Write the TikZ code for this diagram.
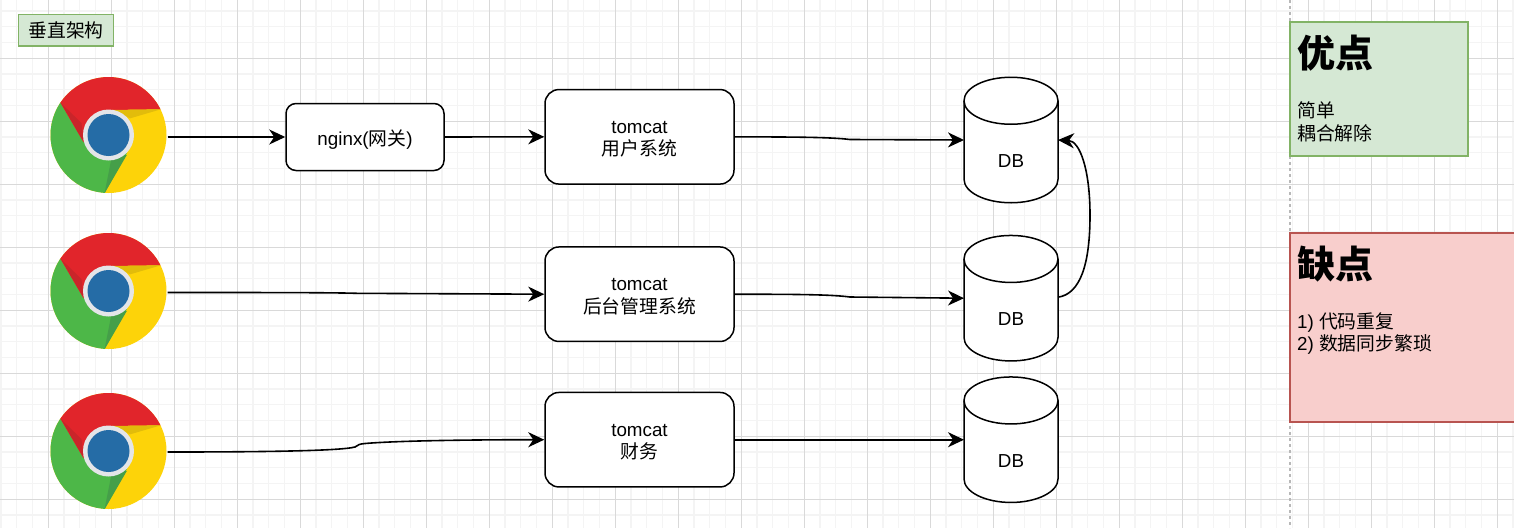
\documentclass[tikz,border=0pt]{standalone}
\usepackage{fontspec}
\setmainfont{Liberation Sans}
\newfontfamily\cjk{Noto Sans CJK SC}
\usetikzlibrary{arrows.meta}
\definecolor{gridmajor}{HTML}{D9D9D9}
\definecolor{gridminor}{HTML}{F4F4F4}
\definecolor{greenfill}{HTML}{D5E8D4}
\definecolor{greenline}{HTML}{82B366}
\definecolor{redfill}{HTML}{F8CECC}
\definecolor{redline}{HTML}{B85450}
\definecolor{chromered}{HTML}{E1252B}
\definecolor{chromereddark}{HTML}{C9252A}
\definecolor{chromegreen}{HTML}{4DB748}
\definecolor{chromegreendark}{HTML}{459F49}
\definecolor{chromeyellow}{HTML}{FDD309}
\definecolor{chromeyellowdark}{HTML}{E2BC0B}
\definecolor{chromeblue}{HTML}{256CA6}
\definecolor{chromering}{HTML}{E4E5E8}

\begin{document}
\begin{tikzpicture}[x=1pt,y=-1pt,font=\fontsize{18.8}{22.5}\selectfont]
		\tikzstyle {arrow line} = [line width=1.6pt,-{Stealth[length=16pt,width=15pt,inset=5pt]}]
		\tikzstyle {system} = [draw,line width=1.5pt,rounded corners=14pt,minimum width=189pt,minimum height=94.5pt,inner sep=0pt,fill=white]
		\tikzstyle {gateway} = [system,rounded corners=10pt,minimum width=158pt,minimum height=67pt]
		\tikzstyle {system text} = [inner sep=0pt,align=center,yshift=-2.5pt]
		\tikzstyle {db} = [minimum width=94pt,minimum height=125.5pt,inner sep=0pt,outer sep=0pt]
		\tikzstyle {icon} = [circle,minimum size=116pt,inner sep=0pt,outer sep=0pt]
		\tikzstyle {note text} = [anchor=west,inner sep=0pt,align=left]
		\tikzstyle {note title} = [note text,font=\fontsize{38}{44}\selectfont\cjk\bfseries]

		\useasboundingbox (0,0) rectangle (1514,528);
		\fill[white] (0,0) rectangle (1514,528);

		% grid
		\foreach \k in {0,...,96}
			\draw[gridminor,line width=1.2pt] (1.05+15.75*\k,0) -- (1.05+15.75*\k,528);
		\foreach \k in {0,...,33}
			\draw[gridminor,line width=1.2pt] (0,11.05+15.75*\k) -- (1514,11.05+15.75*\k);
		\foreach \k in {0,...,23}
			\draw[gridmajor,line width=1.1pt] (48.3+63*\k,0) -- (48.3+63*\k,528);
		\foreach \k in {0,...,7}
			\draw[gridmajor,line width=1.1pt] (0,58.3+63*\k) -- (1514,58.3+63*\k);
		\draw[gridmajor!85!black,line width=1.1pt,dashed] (1290,0) -- (1290,528);

		% title
		\node[draw=greenline,fill=greenfill,line width=1.5pt,minimum width=95pt,minimum height=31.5pt,inner sep=0pt] (title) at (66,30.3) {\cjk 垂直架构};

		% chrome icons
		\foreach \name/\y in {chrome1/135,chrome2/291,chrome3/451} {
			\node[icon] (\name) at (108.5,\y) {};
			\begin{scope}[shift={(108.5,\y)}]
				\clip (0,0) circle (58);
				\fill[chromeyellow] (-60,-60) rectangle (60,60);
				\fill[chromegreen] (-48,-32.3) -- (-25,7) -- (18.3,18.3) -- (-4,58.3) -- (-70,70) -- (-70,-32) -- cycle;
				\fill[chromered] (-48,-32.3) -- (-25,7) -- (0,-25) -- (52.4,-25.7) -- (70,-70) -- (-70,-70) -- cycle;
				\fill[chromereddark] (-48,-32.3) -- (-25,7) -- (-27,-12) -- cycle;
				\fill[chromeyellowdark] (3.3,-25) -- (52.4,-25.7) -- (21.7,-16.7) -- cycle;
				\fill[chromegreendark] (-4,58.3) -- (18.3,20) -- (3.3,21.7) -- cycle;
				\fill[chromering] (0,0) circle (25.5);
				\fill[chromeblue] (0,0) circle (21);
			\end{scope}
		}

		% systems
		\node[gateway] (nginx) at (365,137) {};
		\node[system] (tomcat1) at (639.5,136.8) {};
		\node[system] (tomcat2) at (639.5,294.2) {};
		\node[system] (tomcat3) at (639.5,439.7) {};
		\node[system text] (nginx text) at (nginx) {nginx({\cjk 网关})};
		\node[system text] (tomcat1 text) at (tomcat1) {tomcat\\{\cjk 用户系统}};
		\node[system text] (tomcat2 text) at (tomcat2) {tomcat\\{\cjk 后台管理系统}};
		\node[system text] (tomcat3 text) at (tomcat3) {tomcat\\{\cjk 财务}};

		% databases
		\foreach \name/\y in {db1/140,db2/298.2,db3/439.7} {
			\node[db] (\name) at (1011,\y) {};
			\draw[line width=1.5pt,fill=white] (\name.north west) ++(0,23.5) arc[start angle=180,end angle=0,x radius=47,y radius=-23.5]
				-- ++(0,78.5) arc[start angle=0,end angle=-180,x radius=47,y radius=-23.5] -- cycle;
			\draw[line width=1.5pt] (\name.north west) ++(0,23.5) arc[start angle=180,end angle=360,x radius=47,y radius=-23.5];
			\node[inner sep=0pt] (\name label) at (1011,\y+21) {DB};
		}

		% connectors
		\draw[arrow line] (chrome1.east |- nginx.west) ++(1,0) -- (nginx.west);
		\draw[arrow line] (nginx.east) -- (tomcat1.west);
		\draw[arrow line] (chrome2.east) ++(1,1.5) .. controls (260,292.5) and (330,292.5) .. (357,293.3) -- (tomcat2.west);
		\draw[arrow line] (chrome3.east) ++(1,1) .. controls (260,452) and (340,451) .. (355,447) .. controls (358,444.5) and (360,444) .. (365,443.5) .. controls (400,440.5) and (480,439.7) .. (tomcat3.west);
		\draw[arrow line] (tomcat1.east) .. controls (790,137) and (830,137) .. (850,139.5) -- (db1.west);
		\draw[arrow line] (tomcat2.east) .. controls (790,294.3) and (830,294.3) .. (850,297) -- (db2.west);
		\draw[arrow line] (tomcat3.east) -- (db3.west);
		\draw[arrow line] (db2.east) ++(0,-1) .. controls (1080,294) and (1090,265) .. (1090,215) .. controls (1090,170) and (1080,141) .. (db1.east);

		% notes
		\node[draw=greenline,fill=greenfill,line width=1.5pt,minimum width=178pt,minimum height=134pt,inner sep=0pt] (pros) at (1379,89) {};
		\node[note title] (prostitle) at (1297,53) {优点};
		\node[note text] (prosbody) at (1297,122) {\cjk 简单\\\cjk 耦合解除};
		\node[draw=redline,fill=redfill,line width=1.5pt,minimum width=240pt,minimum height=189pt,inner sep=0pt] (cons) at (1410,327.5) {};
		\node[note title] (constitle) at (1297,264) {缺点};
		\node[note text] (consbody) at (1297,333.5) {1) {\cjk 代码重复}\\2) {\cjk 数据同步繁琐}};
	\end{tikzpicture}
\end{document}
